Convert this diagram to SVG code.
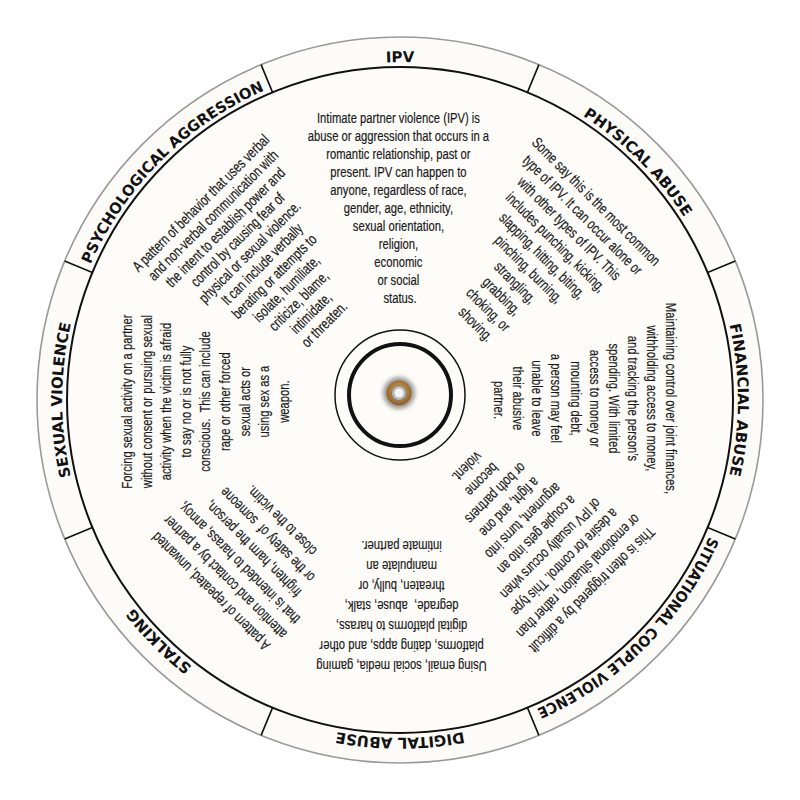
<svg xmlns="http://www.w3.org/2000/svg" xmlns:xlink="http://www.w3.org/1999/xlink" width="800" height="800" viewBox="0 0 800 800">
<style>
.lbl{font-family:"DejaVu Sans","Liberation Sans",sans-serif;font-weight:bold;font-size:15px;fill:#111;}
.b{font-family:"Liberation Sans",Arial,sans-serif;font-size:15px;fill:#1a1a1a;stroke:#1a1a1a;stroke-width:0.2;text-anchor:middle;}
.div{stroke:#111;stroke-width:1.6;}
</style>
<defs>
<path id="lp" d="M 62 400 A 338 338 0 0 1 738 400"/>
<radialGradient id="brass" cx="50%" cy="45%" r="55%">
<stop offset="0" stop-color="#e8d2a8"/>
<stop offset="0.5" stop-color="#c08a3e"/>
<stop offset="1" stop-color="#8a5a22"/>
</radialGradient>
<filter id="blur" x="-50%" y="-50%" width="200%" height="200%"><feGaussianBlur stdDeviation="2"/></filter>
</defs>
<rect width="800" height="800" fill="#ffffff"/>
<g id="wheel">
<circle cx="400" cy="400" r="363" fill="#fcfbf8" stroke="#9a9a9a" stroke-width="1.6"/>
<circle cx="400" cy="400" r="333" fill="#fdfcf9" stroke="#111" stroke-width="2"/>
</g>
<g id="connectors">
<line class="div" x1="400" y1="37" x2="400" y2="67" transform="rotate(22.5 400 400)"/>
<line class="div" x1="400" y1="37" x2="400" y2="67" transform="rotate(67.5 400 400)"/>
<line class="div" x1="400" y1="37" x2="400" y2="67" transform="rotate(112.5 400 400)"/>
<line class="div" x1="400" y1="37" x2="400" y2="67" transform="rotate(157.5 400 400)"/>
<line class="div" x1="400" y1="37" x2="400" y2="67" transform="rotate(202.5 400 400)"/>
<line class="div" x1="400" y1="37" x2="400" y2="67" transform="rotate(247.5 400 400)"/>
<line class="div" x1="400" y1="37" x2="400" y2="67" transform="rotate(292.5 400 400)"/>
<line class="div" x1="400" y1="37" x2="400" y2="67" transform="rotate(337.5 400 400)"/>
</g>
<g id="seg-ipv">
<text class="lbl"><textPath xlink:href="#lp" href="#lp" startOffset="50%" text-anchor="middle">IPV</textPath></text>
<g transform="translate(400 0) scale(0.75 1)"><text class="b">
<tspan x="0" y="123">Intimate partner violence (IPV) is</tspan>
<tspan x="0" y="141">abuse or aggression that occurs in a</tspan>
<tspan x="0" y="159">romantic relationship, past or</tspan>
<tspan x="0" y="177">present. IPV can happen to</tspan>
<tspan x="0" y="195">anyone, regardless of race,</tspan>
<tspan x="0" y="213">gender, age, ethnicity,</tspan>
<tspan x="0" y="231">sexual orientation,</tspan>
<tspan x="0" y="249">religion,</tspan>
<tspan x="0" y="267">economic</tspan>
<tspan x="0" y="285">or social</tspan>
<tspan x="0" y="303">status.</tspan>
</text></g>
</g>
<g id="seg-physical" transform="rotate(45 400 400)">
<text class="lbl"><textPath xlink:href="#lp" href="#lp" startOffset="50%" text-anchor="middle">PHYSICAL ABUSE</textPath></text>
<g transform="translate(400 0) scale(0.75 1)"><text class="b">
<tspan x="0" y="126">Some say this is the most common</tspan>
<tspan x="0" y="145.1">type of IPV. It can occur alone or</tspan>
<tspan x="0" y="164.2">with other types of IPV. This</tspan>
<tspan x="0" y="183.3">includes punching, kicking,</tspan>
<tspan x="0" y="202.4">slapping, hitting, biting,</tspan>
<tspan x="0" y="221.5">pinching, burning,</tspan>
<tspan x="0" y="240.6">strangling,</tspan>
<tspan x="0" y="259.7">grabbing,</tspan>
<tspan x="0" y="278.8">choking, or</tspan>
<tspan x="0" y="297.9">shoving.</tspan>
</text></g>
</g>
<g id="seg-financial" transform="rotate(90 400 400)">
<text class="lbl"><textPath xlink:href="#lp" href="#lp" startOffset="50%" text-anchor="middle">FINANCIAL ABUSE</textPath></text>
<g transform="translate(400 0) scale(0.75 1)"><text class="b">
<tspan x="0" y="134">Maintaining control over joint finances,</tspan>
<tspan x="0" y="153.1">withholding access to money,</tspan>
<tspan x="0" y="172.2">and tracking the person’s</tspan>
<tspan x="0" y="191.3">spending. With limited</tspan>
<tspan x="0" y="210.4">access to money or</tspan>
<tspan x="0" y="229.5">mounting debt,</tspan>
<tspan x="0" y="248.6">a person may feel</tspan>
<tspan x="0" y="267.7">unable to leave</tspan>
<tspan x="0" y="286.8">their abusive</tspan>
<tspan x="0" y="305.9">partner.</tspan>
</text></g>
</g>
<g id="seg-situational" transform="rotate(135 400 400)">
<text class="lbl"><textPath xlink:href="#lp" href="#lp" startOffset="50%" text-anchor="middle" textLength="250" lengthAdjust="spacingAndGlyphs">SITUATIONAL COUPLE VIOLENCE</textPath></text>
<g transform="translate(400 0) scale(0.75 1)"><text class="b">
<tspan x="0" y="135">This is often triggered by a difficult</tspan>
<tspan x="0" y="154.5">or emotional situation, rather than</tspan>
<tspan x="0" y="174">a desire for control. This type</tspan>
<tspan x="0" y="193.5">of IPV usually occurs when</tspan>
<tspan x="0" y="213">a couple gets into an</tspan>
<tspan x="0" y="232.5">argument, turns into</tspan>
<tspan x="0" y="252">a fight, and one</tspan>
<tspan x="0" y="271.5">or both partners</tspan>
<tspan x="0" y="291">become</tspan>
<tspan x="0" y="310.5">violent.</tspan>
</text></g>
</g>
<g id="seg-digital" transform="rotate(180 400 400)">
<text class="lbl"><textPath xlink:href="#lp" href="#lp" startOffset="50%" text-anchor="middle">DIGITAL ABUSE</textPath></text>
<g transform="translate(400 0) scale(0.75 1)"><text class="b" xml:space="preserve">
<tspan x="0" y="139">Using email, social media, gaming</tspan>
<tspan x="0" y="159">platforms, dating apps, and other</tspan>
<tspan x="0" y="179">digital platforms to harass,</tspan>
<tspan x="0" y="199">degrade,  abuse, stalk,</tspan>
<tspan x="0" y="219">threaten, bully, or</tspan>
<tspan x="0" y="239">manipulate an</tspan>
<tspan x="0" y="259">intimate partner.</tspan>
</text></g>
</g>
<g id="seg-stalking" transform="rotate(225 400 400)">
<text class="lbl"><textPath xlink:href="#lp" href="#lp" startOffset="50%" text-anchor="middle">STALKING</textPath></text>
<g transform="translate(400 0) scale(0.75 1)"><text class="b" xml:space="preserve">
<tspan x="0" y="136">A pattern of repeated, unwanted</tspan>
<tspan x="0" y="156">attention and contact by a partner</tspan>
<tspan x="0" y="176">that is intended to harass, annoy,</tspan>
<tspan x="0" y="196">frighten, harm the person,</tspan>
<tspan x="0" y="216">or the safety of  someone</tspan>
<tspan x="0" y="236">close to the victim.</tspan>
</text></g>
</g>
<g id="seg-sexual" transform="rotate(270 400 400)">
<text class="lbl"><textPath xlink:href="#lp" href="#lp" startOffset="50%" text-anchor="middle">SEXUAL VIOLENCE</textPath></text>
<g transform="translate(400 0) scale(0.75 1)"><text class="b" xml:space="preserve">
<tspan x="0" y="132">Forcing sexual activity on a partner</tspan>
<tspan x="0" y="151.6">without consent or pursuing sexual</tspan>
<tspan x="0" y="171.2">activity when the victim is afraid</tspan>
<tspan x="0" y="190.8">to say no or is not fully</tspan>
<tspan x="0" y="210.4">conscious.  This can include</tspan>
<tspan x="0" y="230">rape or other forced</tspan>
<tspan x="0" y="249.6">sexual acts or</tspan>
<tspan x="0" y="269.2">using sex as a</tspan>
<tspan x="0" y="288.8">weapon.</tspan>
</text></g>
</g>
<g id="seg-psychological" transform="rotate(315 400 400)">
<text class="lbl"><textPath xlink:href="#lp" href="#lp" startOffset="50%" text-anchor="middle" textLength="252" lengthAdjust="spacingAndGlyphs">PSYCHOLOGICAL AGGRESSION</textPath></text>
<g transform="translate(400 0) scale(0.75 1)"><text class="b">
<tspan x="0" y="125">A pattern of behavior that uses verbal</tspan>
<tspan x="0" y="142.3">and non-verbal communication with</tspan>
<tspan x="0" y="159.6">the intent to establish power and</tspan>
<tspan x="0" y="176.9">control by causing fear of</tspan>
<tspan x="0" y="194.2">physical or sexual violence.</tspan>
<tspan x="0" y="211.5">It can include verbally</tspan>
<tspan x="0" y="228.8">berating or attempts to</tspan>
<tspan x="0" y="246.1">isolate, humiliate,</tspan>
<tspan x="0" y="263.4">criticize, blame,</tspan>
<tspan x="0" y="280.7">intimidate,</tspan>
<tspan x="0" y="298">or threaten.</tspan>
</text></g>
</g>
<g id="hub">
<circle cx="400" cy="395" r="65" fill="none" stroke="#111" stroke-width="1.5"/>
<circle cx="400" cy="395" r="51" fill="none" stroke="#111" stroke-width="4"/>
<circle cx="399" cy="393" r="16" fill="#9a9a9a" filter="url(#blur)"/>
<circle cx="399" cy="393" r="12.5" fill="url(#brass)"/>
<circle cx="399" cy="393" r="7.5" fill="#b9b9b9" stroke="#777" stroke-width="1"/>
<circle cx="399" cy="393" r="4.5" fill="#f4f4f4"/>
</g>
</svg>
